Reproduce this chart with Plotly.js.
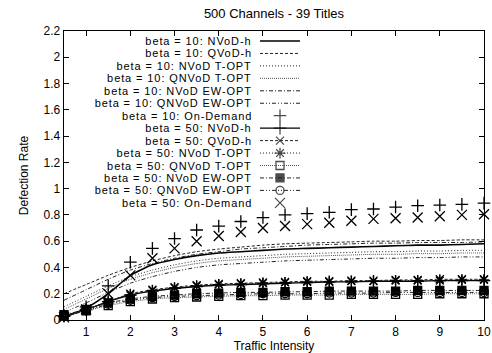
<!DOCTYPE html>
<html><head><meta charset="utf-8">
<script src="https://cdn.plot.ly/plotly-3.0.1.min.js"></script>
<style>html,body{margin:0;padding:0;background:#fff}
#chart .annotation-text{letter-spacing:0.9px}</style>
</head><body><div id="chart" style="width:492px;height:353px"></div>
<script>
// ---------- data ----------
const traffic = [0.5,1,1.5,2,2.5,3,3.5,4,4.5,5,5.5,6,6.5,7,7.5,8,8.5,9,9.5,10];

const b10_NVoD_h     = [0.02,0.09,0.20,0.34,0.42,0.46,0.49,0.51,0.52,0.53,0.54,0.545,0.55,0.555,0.56,0.565,0.57,0.57,0.575,0.58];
const b10_QVoD_h     = [0.20,0.27,0.34,0.40,0.45,0.49,0.52,0.54,0.555,0.57,0.58,0.585,0.59,0.595,0.60,0.60,0.605,0.605,0.61,0.61];
const b10_NVoD_TOPT  = [0.10,0.18,0.26,0.33,0.38,0.42,0.45,0.47,0.48,0.49,0.50,0.505,0.51,0.515,0.52,0.52,0.525,0.525,0.53,0.53];
const b10_QNVoD_TOPT = [0.08,0.16,0.24,0.31,0.36,0.40,0.43,0.45,0.46,0.47,0.48,0.485,0.49,0.495,0.50,0.50,0.505,0.505,0.51,0.51];
const b10_NVoD_EW    = [0.15,0.23,0.31,0.38,0.43,0.47,0.50,0.52,0.54,0.55,0.56,0.57,0.575,0.58,0.585,0.585,0.59,0.59,0.59,0.595];
const b10_QNVoD_EW   = [0.06,0.13,0.21,0.28,0.33,0.37,0.40,0.42,0.43,0.44,0.45,0.455,0.46,0.465,0.47,0.47,0.475,0.475,0.48,0.48];
const b10_OnDemand   = [0.03,0.10,0.26,0.44,0.545,0.62,0.685,0.715,0.75,0.78,0.80,0.81,0.82,0.84,0.845,0.86,0.87,0.875,0.88,0.89];

const b50_NVoD_h     = [0.03,0.08,0.14,0.19,0.22,0.24,0.255,0.265,0.27,0.275,0.28,0.285,0.29,0.29,0.295,0.295,0.295,0.30,0.30,0.30];
const b50_QVoD_h     = [0.03,0.08,0.14,0.20,0.23,0.25,0.265,0.275,0.28,0.285,0.29,0.295,0.295,0.30,0.30,0.305,0.305,0.31,0.31,0.31];
const b50_NVoD_TOPT  = [0.03,0.08,0.14,0.19,0.225,0.245,0.26,0.27,0.275,0.28,0.285,0.29,0.29,0.295,0.295,0.30,0.30,0.30,0.305,0.305];
const b50_QNVoD_TOPT = [0.03,0.07,0.11,0.14,0.16,0.17,0.175,0.18,0.185,0.185,0.19,0.19,0.19,0.195,0.195,0.195,0.195,0.20,0.20,0.20];
const b50_NVoD_EW    = [0.04,0.08,0.13,0.16,0.18,0.19,0.20,0.205,0.21,0.21,0.215,0.215,0.22,0.22,0.22,0.22,0.225,0.225,0.225,0.225];
const b50_QNVoD_EW   = [0.03,0.07,0.12,0.15,0.17,0.18,0.185,0.19,0.195,0.20,0.20,0.20,0.205,0.205,0.205,0.21,0.21,0.21,0.21,0.21];
const b50_OnDemand   = [0.02,0.08,0.20,0.34,0.47,0.545,0.60,0.64,0.67,0.70,0.715,0.73,0.74,0.755,0.77,0.775,0.78,0.79,0.80,0.805];

const seriesNames = [
  'beta = 10: NVoD-h','beta = 10: QVoD-h','beta = 10: NVoD T-OPT','beta = 10: QNVoD T-OPT',
  'beta = 10: NVoD EW-OPT','beta = 10: QNVoD EW-OPT','beta = 10: On-Demand',
  'beta = 50: NVoD-h','beta = 50: QVoD-h','beta = 50: NVoD T-OPT','beta = 50: QNVoD T-OPT',
  'beta = 50: NVoD EW-OPT','beta = 50: QNVoD EW-OPT','beta = 50: On-Demand'
];
const seriesValues = [b10_NVoD_h,b10_QVoD_h,b10_NVoD_TOPT,b10_QNVoD_TOPT,b10_NVoD_EW,b10_QNVoD_EW,b10_OnDemand,
  b50_NVoD_h,b50_QVoD_h,b50_NVoD_TOPT,b50_QNVoD_TOPT,b50_NVoD_EW,b50_QNVoD_EW,b50_OnDemand];

const xTicks = [1,2,3,4,5,6,7,8,9,10];
const yTicks = [0,0.2,0.4,0.6,0.8,1,1.2,1.4,1.6,1.8,2,2.2];
const yTickLabels = ['0','0.2','0.4','0.6','0.8','1','1.2','1.4','1.6','1.8','2','2.2'];

// ---------- styles ----------
const DASH = {
  solid:'solid', dash:'3px,2px', dot:'1px,2px', fine:'1px,1px',
  dashdot:'4px,2px,1px,2px', dashdotdot:'4px,2px,1px,2px,1px,2px'
};
const styles = [
  {mode:'lines', dash:DASH.solid, width:1.6, color:'#000'},
  {mode:'lines', dash:DASH.dash, width:1, color:'#222'},
  {mode:'lines', dash:DASH.dot, width:1, color:'#222'},
  {mode:'lines', dash:DASH.fine, width:1, color:'#555'},
  {mode:'lines', dash:DASH.dashdot, width:1, color:'#222'},
  {mode:'lines', dash:DASH.dashdotdot, width:1, color:'#222'},
  {mode:'markers', symbol:'cross-thin-open', size:9},
  {mode:'lines+markers', dash:DASH.solid, width:1.4, color:'#000', symbol:'cross-thin-open', size:9},
  {mode:'lines+markers', dash:DASH.dash, width:1, color:'#222', symbol:'x-thin-open', size:8},
  {mode:'lines+markers', dash:DASH.dot, width:1, color:'#222', symbol:'asterisk-open', size:9},
  {mode:'lines+markers', dash:DASH.fine, width:1, color:'#555', symbol:'square-open', size:8},
  {mode:'lines+markers', dash:DASH.dashdot, width:1, color:'#222', symbol:'square', size:8},
  {mode:'lines+markers', dash:DASH.dashdotdot, width:1, color:'#222', symbol:'circle-open', size:8},
  {mode:'markers', symbol:'x-thin-open', size:10}
];

const traces = [];
seriesValues.forEach((vals,i)=>{
  const s = styles[i];
  const t = {x:traffic, y:vals, name:seriesNames[i], type:'scatter', mode:s.mode, showlegend:false, cliponaxis:false};
  if (s.mode.indexOf('lines')>=0) t.line = {color:s.color, width:s.width, dash:s.dash, shape:'spline', smoothing:0.6};
  if (s.mode.indexOf('markers')>=0) t.marker = {symbol:s.symbol, size:s.size, color:'#000', line:{color:'#000', width:1.3}};
  traces.push(t);
});

// ---------- gnuplot-like key (text right-aligned, sample on right) ----------
const plotL=64, plotR=484, plotT=31, plotB=320;
const W=plotR-plotL, H=plotB-plotT;
const keyTextRight=253, keySampleL=260, keySampleR=300, keyTop=41, keyStep=12.45, keyLetterSp=0.9;
const px2x = p => (p-plotL)/W, py2y = p => (plotB-p)/H;
const annotations=[], shapes=[];
const keyMX=[], keyMY=[], keySym=[], keySize=[];
const keyFont = {family:'Liberation Sans, Arial, sans-serif', size:11, color:'#000'};
seriesNames.forEach((nm,i)=>{
  const yy = py2y(keyTop + i*keyStep);
  const shift = nm.length*keyLetterSp/2;   // compensate CSS letter-spacing (text is centred in its box)
  annotations.push({xref:'paper', yref:'paper', x:px2x(keyTextRight - shift), y:yy, xanchor:'right', yanchor:'middle',
    text:nm, showarrow:false, borderpad:0, font:keyFont});
  const s=styles[i];
  if (s.mode.indexOf('lines')>=0) shapes.push({type:'line', xref:'paper', yref:'paper',
     x0:px2x(keySampleL), x1:px2x(keySampleR), y0:yy, y1:yy, line:{color:s.color, width:s.width, dash:s.dash}});
  if (s.mode.indexOf('markers')>=0){ keyMX.push(px2x((keySampleL+keySampleR)/2)); keyMY.push(yy); keySym.push(s.symbol); keySize.push(s.size); }
});
traces.push({x:keyMX, y:keyMY, xaxis:'x2', yaxis:'y2', type:'scatter', mode:'markers', showlegend:false, hoverinfo:'skip',
  marker:{symbol:keySym, size:keySize, color:'#000', line:{color:'#000', width:1.3}}});

const font = {family:'Liberation Sans, Arial, sans-serif', size:12, color:'#000'};
const layout = {
  width:492, height:353,
  margin:{l:plotL, r:492-plotR, t:plotT, b:353-plotB, pad:0},
  paper_bgcolor:'#fff', plot_bgcolor:'#fff',
  font:font,
  title:{text:'500 Channels - 39 Titles', font:{family:font.family, size:13, color:'#000'},
    x:(plotL+plotR)/2/492, xanchor:'center', y:0.963, yanchor:'middle'},
  xaxis:{range:[0.5,10], tickvals:xTicks, ticktext:xTicks.map(String), ticks:'inside', ticklen:5, tickwidth:1, tickcolor:'#000',
    showline:true, linecolor:'#000', linewidth:1.3, mirror:'ticks', showgrid:false, zeroline:false, automargin:false,
    title:{text:'Traffic Intensity', font:font, standoff:2}, tickfont:font},
  yaxis:{range:[0,2.2], tickvals:yTicks, ticktext:yTickLabels, ticks:'inside', ticklen:5, tickwidth:1, tickcolor:'#000',
    showline:true, linecolor:'#000', linewidth:1.3, mirror:'ticks', showgrid:false, zeroline:false, automargin:false,
    title:{text:'Defection Rate', font:font, standoff:12}, tickfont:font},
  xaxis2:{overlaying:'x', range:[0,1], visible:false},
  yaxis2:{overlaying:'y', range:[0,1], visible:false},
  annotations:annotations, shapes:shapes, showlegend:false
};
Plotly.newPlot('chart', traces, layout, {staticPlot:true, displayModeBar:false});
</script></body></html>
